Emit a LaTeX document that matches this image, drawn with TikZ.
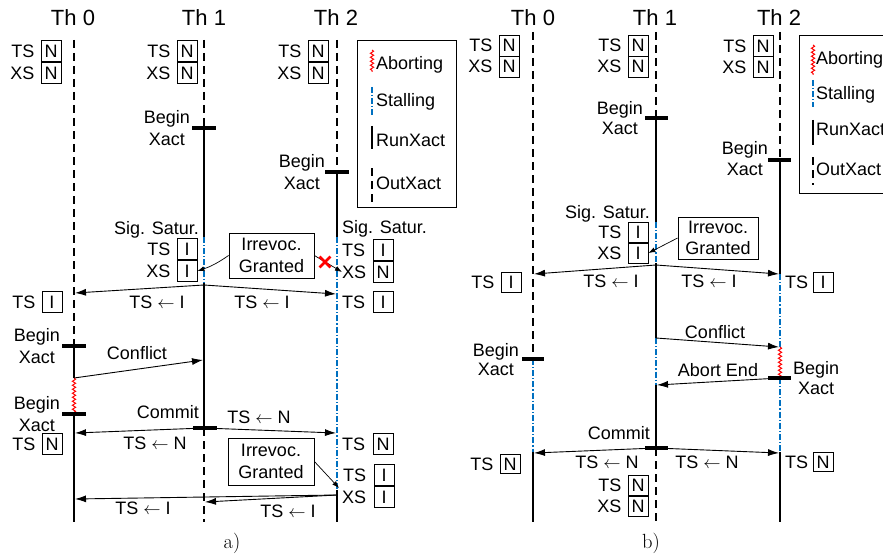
\documentclass[tikz,border=0pt]{standalone}
\usepackage{fontspec}
\newfontfamily\arial{Liberation Sans}
\usetikzlibrary{arrows.meta,decorations.pathmorphing,shapes.misc}
\definecolor{stallblue}{RGB}{0,112,192}
\tikzset{
 lbl/.style={font=\arial\fontsize{18}{21.5}\selectfont, inner sep=0pt, align=center},
 head/.style={font=\arial\fontsize{22}{26}\selectfont, inner sep=0pt},
 vbox/.style={draw, line width=0.8pt, font=\arial\fontsize{18}{21.5}\selectfont, minimum width=20pt, minimum height=21.5pt, inner sep=0pt},
 note/.style={draw, line width=0.8pt, font=\arial\fontsize{18}{21.5}\selectfont, align=center, inner sep=0pt},
 runx/.style={line width=2pt},
 outx/.style={line width=2pt, dash pattern=on 8pt off 5pt},
 stallx/.style={line width=2pt, draw=stallblue, dash pattern=on 6pt off 2pt on 1.2pt off 2pt},
 abortx/.style={line width=1pt, draw=red, decorate, decoration={snake, amplitude=1.6pt, segment length=4pt}},
 tick/.style={line width=3.5pt},
 msg/.style={line width=0.9pt, -{Latex[length=11pt,width=7pt]}},
 pointer/.style={line width=0.7pt, -{Latex[length=7pt,width=5pt]}},
 capt/.style={font=\fontsize{20.5}{22}\selectfont, inner sep=0pt},
}
\begin{document}
\begin{tikzpicture}[x=1pt,y=-1pt]
\useasboundingbox (0,0) rectangle (883,559);
\clip (0,0) rectangle (883,559);
\fill[white] (0,0) rectangle (883,559);

% ================= a) =================
\node[head] (ah0) at (73,18) {Th 0};
\node[head] (ah1) at (204,18) {Th 1};
\node[head] (ah2) at (336,18) {Th 2};

% lifeline coordinates
\coordinate (a0s) at (74,40);
\coordinate (a0b1) at (74,346);
\coordinate (a0ab) at (74,378);
\coordinate (a0b2) at (74,414);
\coordinate (a0e) at (74,522);
\coordinate (a1s) at (204,40);
\coordinate (a1b) at (204,128);
\coordinate (a1st) at (204,237);
\coordinate (a1r) at (204,283);
\coordinate (a1c) at (204,428);
\coordinate (a1e) at (204,522);
\coordinate (a2s) at (337,40);
\coordinate (a2b) at (337,172);
\coordinate (a2st) at (337,237);
\coordinate (a2r) at (337,490);
\coordinate (a2e) at (337,522);

\draw[outx] (a0s) -- (a0b1);
\draw[runx] (a0b1) -- (a0ab);
\draw[abortx] (a0ab) -- (a0b2);
\draw[runx] (a0b2) -- (a0e);
\draw[tick] ([xshift=-12pt]a0b1) -- ([xshift=12pt]a0b1);
\draw[tick] ([xshift=-12pt]a0b2) -- ([xshift=12pt]a0b2);

\draw[outx] (a1s) -- (a1b);
\draw[runx] (a1b) -- (a1st);
\draw[stallx] (a1st) -- (a1r);
\draw[runx] (a1r) -- (a1c);
\draw[outx] (a1c) -- (a1e);
\draw[tick] ([xshift=-12pt]a1b) -- ([xshift=12pt]a1b);
\draw[tick] ([xshift=-11pt]a1c) -- ([xshift=13pt]a1c);

\draw[outx] (a2s) -- (a2b);
\draw[runx] (a2b) -- (a2st);
\draw[stallx] (a2st) -- (a2r);
\draw[runx] (a2r) -- (a2e);
\draw[tick] ([xshift=-12pt]a2b) -- ([xshift=12pt]a2b);

% initial states
\node[vbox] (a0ts) at (51,51) {N};
\node[vbox] (a0xs) at (51,73) {N};
\node[lbl, anchor=east] (a0tsl) at ([xshift=-6pt]a0ts.west) {TS};
\node[lbl, anchor=east] (a0xsl) at ([xshift=-6pt]a0xs.west) {XS};
\node[vbox] (a1ts) at (187,51) {N};
\node[vbox] (a1xs) at (187,73) {N};
\node[lbl, anchor=east] (a1tsl) at ([xshift=-6pt]a1ts.west) {TS};
\node[lbl, anchor=east] (a1xsl) at ([xshift=-6pt]a1xs.west) {XS};
\node[vbox] (a2ts) at (318,51) {N};
\node[vbox] (a2xs) at (318,73) {N};
\node[lbl, anchor=east] (a2tsl) at ([xshift=-6pt]a2ts.west) {TS};
\node[lbl, anchor=east] (a2xsl) at ([xshift=-6pt]a2xs.west) {XS};

% begin labels
\node[lbl, anchor=east] (a1bl) at (190,128) {Begin\\Xact};
\node[lbl, anchor=east] (a2bl) at (325,172) {Begin\\Xact};
\node[lbl, anchor=east] (a0bl1) at (60,346) {Begin\\Xact};
\node[lbl, anchor=east] (a0bl2) at (60,414) {Begin\\Xact};

% legend a
\node[draw, line width=0.8pt, minimum width=99pt, minimum height=167pt, inner sep=0pt, anchor=north west] (lega) at (357,40) {};
\coordinate (la1) at (372,50); \coordinate (la2) at (372,72);
\coordinate (la3) at (372,87); \coordinate (la4) at (372,116);
\coordinate (la5) at (372,126); \coordinate (la6) at (372,149);
\coordinate (la7) at (372,168); \coordinate (la8) at (372,205);
\draw[abortx] (la1) -- (la2);
\draw[stallx, line width=1.5pt] (la3) -- (la4);
\draw[line width=1.5pt] (la5) -- (la6);
\draw[line width=1.5pt, dash pattern=on 8pt off 5pt] (la7) -- (la8);
\node[lbl, anchor=west] (lat1) at (376,65) {Aborting};
\node[lbl, anchor=west] (lat2) at (376,102) {Stalling};
\node[lbl, anchor=west] (lat3) at (376,140) {RunXact};
\node[lbl, anchor=west] (lat4) at (376,183) {OutXact};

% Sig. Satur. Th1
\node[lbl, anchor=east] (a1sig) at (199,230) {Sig. Satur.};
\node[vbox] (a1ts2) at (187,249) {I};
\node[vbox] (a1xs2) at (187,271) {I};
\node[lbl, anchor=east] (a1tsl2) at ([xshift=-6pt]a1ts2.west) {TS};
\node[lbl, anchor=east] (a1xsl2) at ([xshift=-6pt]a1xs2.west) {XS};
% Sig. Satur. Th2
\node[lbl, anchor=west] (a2sig) at (342,229) {Sig. Satur.};
\node[vbox] (a2ts2) at (383,250) {I};
\node[vbox] (a2xs2) at (383,272) {N};
\node[lbl, anchor=west] (a2tsl2) at (342,250) {TS};
\node[lbl, anchor=west] (a2xsl2) at (342,272) {XS};

% Irrevoc box 1
\node[note, minimum width=85pt, minimum height=45pt] (airr1) at (271.5,255.5) {Irrevoc.\\Granted};
\draw[pointer] (airr1.west) to[bend left=8] (a1xs2.east);
\draw[pointer] (airr1.east) -- (a2xsl2.west);
\node[cross out, draw=red, line width=2.8pt, minimum size=8pt, inner sep=0pt] (axmark) at (325,262) {};

% TS <- I messages
\coordinate (a1m1) at (204,285);
\coordinate (a0m1) at (75,293);
\coordinate (a2m1) at (336,294);
\draw[msg] (a1m1) -- (a0m1);
\draw[msg] (a1m1) -- (a2m1);
\node[lbl] (am1l) at (157,302) {TS $\leftarrow$ I};
\node[lbl] (am1r) at (262,302) {TS $\leftarrow$ I};
\node[vbox] (a0ts3) at (52,302) {I};
\node[lbl, anchor=east] (a0tsl3) at ([xshift=-6pt]a0ts3.west) {TS};
\node[vbox] (a2ts3) at (383,302) {I};
\node[lbl, anchor=west] (a2tsl3) at (342,302) {TS};

% Conflict
\coordinate (a1m2) at (203,360);
\draw[msg] (a0ab) -- (a1m2);
\node[lbl] (aconf) at (137,353) {Conflict};

% Commit
\node[lbl, anchor=east] (acom) at (199,412) {Commit};
\coordinate (a0m3) at (75,433);
\coordinate (a2m3) at (336,433);
\draw[msg] (a1c) -- (a0m3);
\draw[msg] (a1c) -- (a2m3);
\node[lbl] (am3l) at (155,443) {TS $\leftarrow$ N};
\node[lbl] (am3r) at (259,417) {TS $\leftarrow$ N};
\node[vbox] (a0ts4) at (52,444) {N};
\node[lbl, anchor=east] (a0tsl4) at ([xshift=-6pt]a0ts4.west) {TS};
\node[vbox] (a2ts4) at (383,444) {N};
\node[lbl, anchor=west] (a2tsl4) at (342,444) {TS};

% Irrevoc box 2
\node[note, minimum width=86pt, minimum height=47pt] (airr2) at (271,461.5) {Irrevoc.\\Granted};
\node[vbox] (a2ts5) at (384,475) {I};
\node[vbox] (a2xs5) at (384,497) {I};
\node[lbl, anchor=west] (a2tsl5) at (343,475) {TS};
\node[lbl, anchor=west] (a2xsl5) at (342,497) {XS};
\coordinate (a2irr) at (339,488);
\draw[pointer] (airr2.east) -- (a2irr);

% TS <- I final
\coordinate (a2m4) at (337,495);
\coordinate (a0m4) at (75,499);
\coordinate (a1m4) at (205,502);
\draw[msg] (a2m4) -- (a0m4);
\draw[msg] (a2m4) -- (a1m4);
\node[lbl] (am4l) at (143,508) {TS $\leftarrow$ I};
\node[lbl] (am4r) at (288,511) {TS $\leftarrow$ I};

\node[capt] (capa) at (232,543) {a)};

% ================= b) =================
\node[head] (bh0) at (533,18) {Th 0};
\node[head] (bh1) at (655,18) {Th 1};
\node[head] (bh2) at (779,18) {Th 2};

\coordinate (b0s) at (533,32);
\coordinate (b0b) at (533,359);
\coordinate (b0r) at (533,452);
\coordinate (b0e) at (533,522);
\coordinate (b1s) at (656,32);
\coordinate (b1b) at (656,118);
\coordinate (b1st1) at (656,222);
\coordinate (b1r1) at (656,263);
\coordinate (b1st2) at (656,338);
\coordinate (b1r2) at (656,385);
\coordinate (b1c) at (656,448);
\coordinate (b1e) at (656,522);
\coordinate (b2s) at (780,32);
\coordinate (b2b) at (780,160);
\coordinate (b2st1) at (780,274);
\coordinate (b2ab) at (780,347);
\coordinate (b2b2) at (780,378);
\coordinate (b2r) at (780,452);
\coordinate (b2e) at (780,522);

\draw[outx] (b0s) -- (b0b);
\draw[stallx] (b0b) -- (b0r);
\draw[runx] (b0r) -- (b0e);
\draw[tick] ([xshift=-11pt]b0b) -- ([xshift=11pt]b0b);

\draw[outx] (b1s) -- (b1b);
\draw[runx] (b1b) -- (b1st1);
\draw[stallx] (b1st1) -- (b1r1);
\draw[runx] (b1r1) -- (b1st2);
\draw[stallx] (b1st2) -- (b1r2);
\draw[runx] (b1r2) -- (b1c);
\draw[outx] (b1c) -- (b1e);
\draw[tick] ([xshift=-11pt]b1b) -- ([xshift=12pt]b1b);
\draw[tick] ([xshift=-11pt]b1c) -- ([xshift=12pt]b1c);

\draw[outx] (b2s) -- (b2b);
\draw[runx] (b2b) -- (b2st1);
\draw[stallx] (b2st1) -- (b2ab);
\draw[abortx] (b2ab) -- (b2b2);
\draw[stallx] (b2b2) -- (b2r);
\draw[runx] (b2r) -- (b2e);
\draw[tick] ([xshift=-12pt]b2b) -- ([xshift=11pt]b2b);
\draw[tick] ([xshift=-12pt]b2b2) -- ([xshift=11pt]b2b2);

% initial states
\node[vbox, minimum height=21pt] (b0ts) at (509,45.5) {N};
\node[vbox, minimum height=21pt] (b0xs) at (509,66.5) {N};
\node[lbl, anchor=east] (b0tsl) at ([xshift=-6pt]b0ts.west) {TS};
\node[lbl, anchor=east] (b0xsl) at ([xshift=-6pt]b0xs.west) {XS};
\node[vbox, minimum height=21pt] (b1ts) at (638,45.5) {N};
\node[vbox, minimum height=21pt] (b1xs) at (638,66.5) {N};
\node[lbl, anchor=east] (b1tsl) at ([xshift=-6pt]b1ts.west) {TS};
\node[lbl, anchor=east] (b1xsl) at ([xshift=-6pt]b1xs.west) {XS};
\node[vbox, minimum height=21pt] (b2ts) at (763,46) {N};
\node[vbox, minimum height=21pt] (b2xs) at (763,67) {N};
\node[lbl, anchor=east] (b2tsl) at ([xshift=-6pt]b2ts.west) {TS};
\node[lbl, anchor=east] (b2xsl) at ([xshift=-6pt]b2xs.west) {XS};

% begin labels
\node[lbl, anchor=east, font=\arial\fontsize{18}{20}\selectfont] (b1bl) at (643,118) {Begin\\Xact};
\node[lbl, anchor=east, font=\arial\fontsize{18}{21}\selectfont] (b2bl) at (768,158.5) {Begin\\Xact};
\node[lbl, anchor=east, font=\arial\fontsize{18}{19}\selectfont] (b0bl) at (519,359.5) {Begin\\Xact};
\node[lbl, anchor=west, font=\arial\fontsize{18}{20}\selectfont] (b2bl2) at (793,378) {Begin\\Xact};

% legend b
\node[draw, line width=0.8pt, minimum width=120pt, minimum height=158pt, inner sep=0pt, anchor=north west] (legb) at (799,35) {};
\coordinate (lb1) at (813,45); \coordinate (lb2) at (813,75);
\coordinate (lb3) at (813,80); \coordinate (lb4) at (813,107);
\coordinate (lb5) at (813,120); \coordinate (lb6) at (813,145);
\coordinate (lb7) at (813,157); \coordinate (lb8) at (813,185);
\draw[abortx] (lb1) -- (lb2);
\draw[stallx, line width=1.5pt] (lb3) -- (lb4);
\draw[line width=1.5pt] (lb5) -- (lb6);
\draw[line width=1.5pt, dash pattern=on 8pt off 5pt] (lb7) -- (lb8);
\node[lbl, anchor=west] (lbt1) at (816,60) {Aborting};
\node[lbl, anchor=west] (lbt2) at (816,95) {Stalling};
\node[lbl, anchor=west] (lbt3) at (816,129) {RunXact};
\node[lbl, anchor=west] (lbt4) at (816,169) {OutXact};

% Sig. Satur. Th1 b
\node[lbl, anchor=east] (b1sig) at (650,214) {Sig. Satur.};
\node[vbox, minimum height=21pt] (b1ts2) at (638,232.5) {I};
\node[vbox, minimum height=21pt] (b1xs2) at (638,253) {I};
\node[lbl, anchor=east] (b1tsl2) at ([xshift=-6pt]b1ts2.west) {TS};
\node[lbl, anchor=east] (b1xsl2) at ([xshift=-6pt]b1xs2.west) {XS};

\node[note, minimum width=80pt, minimum height=42pt] (birr) at (718,238) {Irrevoc.\\Granted};
\draw[pointer] (birr.west) -- (b1xs2.east);

% TS <- I
\coordinate (b1m1) at (656,265);
\coordinate (b0m1) at (534,274);
\coordinate (b2m1) at (779,274);
\draw[msg] (b1m1) -- (b0m1);
\draw[msg] (b1m1) -- (b2m1);
\node[lbl] (bm1l) at (611,281) {TS $\leftarrow$ I};
\node[lbl] (bm1r) at (709,281) {TS $\leftarrow$ I};
\node[vbox, minimum height=20pt] (b0ts3) at (511,282) {I};
\node[lbl, anchor=east] (b0tsl3) at ([xshift=-6pt]b0ts3.west) {TS};
\node[vbox, minimum height=20pt] (b2ts3) at (823,282) {I};
\node[lbl, anchor=west] (b2tsl3) at (785,282) {TS};

% Conflict
\coordinate (b2m2) at (779,347);
\draw[msg] (b1st2) -- (b2m2);
\node[lbl] (bconf) at (715,332) {Conflict};
% Abort End
\coordinate (b1m2) at (657,385);
\draw[msg] (b2b2) -- (b1m2);
\node[lbl] (babort) at (718,370) {Abort End};

% Commit
\node[lbl, anchor=east] (bcom) at (650,433) {Commit};
\coordinate (b0m3) at (534,453);
\coordinate (b2m3) at (779,453);
\draw[msg] (b1c) -- (b0m3);
\draw[msg] (b1c) -- (b2m3);
\node[lbl] (bm3l) at (607,462) {TS $\leftarrow$ N};
\node[lbl] (bm3r) at (707,462) {TS $\leftarrow$ N};
\node[vbox, minimum height=19pt] (b0ts4) at (510,464) {N};
\node[lbl, anchor=east] (b0tsl4) at ([xshift=-6pt]b0ts4.west) {TS};
\node[vbox, minimum height=19pt] (b2ts4) at (823,462) {N};
\node[lbl, anchor=west] (b2tsl4) at (785,462) {TS};
\node[vbox, minimum height=21pt] (b1ts5) at (638,485.5) {N};
\node[vbox, minimum height=21pt] (b1xs5) at (638,506) {N};
\node[lbl, anchor=east] (b1tsl5) at ([xshift=-6pt]b1ts5.west) {TS};
\node[lbl, anchor=east] (b1xsl5) at ([xshift=-6pt]b1xs5.west) {XS};

\node[capt] (capb) at (651,543) {b)};
\end{tikzpicture}
\end{document}
